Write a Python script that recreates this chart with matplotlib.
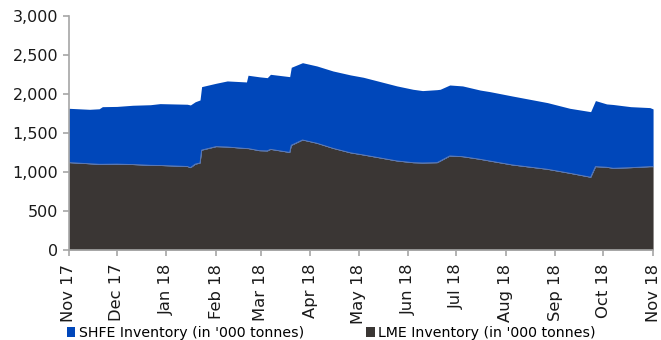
import matplotlib
matplotlib.use("Agg")
import matplotlib.pyplot as plt
import matplotlib.dates as mdates
import pandas as pd

dates = ["2017-11-01", "2017-11-14", "2017-11-20", "2017-11-22", "2017-12-01",
         "2017-12-11", "2017-12-22", "2017-12-28", "2018-01-14", "2018-01-16",
         "2018-01-19", "2018-01-22", "2018-01-23", "2018-02-01", "2018-02-08",
         "2018-02-20", "2018-02-21", "2018-02-28", "2018-03-05", "2018-03-07",
         "2018-03-19", "2018-03-20", "2018-03-27", "2018-04-05", "2018-04-15",
         "2018-04-26", "2018-05-04", "2018-05-25", "2018-06-04", "2018-06-10",
         "2018-06-19", "2018-06-21", "2018-06-27", "2018-07-05", "2018-07-16",
         "2018-07-22", "2018-08-05", "2018-08-27", "2018-09-10", "2018-09-23",
         "2018-09-26", "2018-10-03", "2018-10-07", "2018-10-18", "2018-10-30",
         "2018-11-01"]

lme = [1120, 1105, 1098, 1098, 1100, 1095, 1085, 1083, 1070, 1055,
       1100, 1115, 1280, 1325, 1320, 1300, 1300, 1273, 1270, 1290,
       1250, 1342, 1410, 1368, 1303, 1245, 1218, 1141, 1119, 1115,
       1119, 1140, 1205, 1196, 1162, 1140, 1090, 1034, 983, 932,
       1068, 1060, 1047, 1055, 1068, 1068]

total = [1816, 1803, 1810, 1837, 1840, 1855, 1862, 1876, 1868, 1859,
         1900, 1923, 2094, 2137, 2167, 2154, 2240, 2220, 2209, 2252,
         2222, 2342, 2401, 2359, 2295, 2244, 2214, 2103, 2060, 2043,
         2055, 2060, 2115, 2103, 2050, 2030, 1974, 1889, 1816, 1773,
         1915, 1872, 1865, 1837, 1825, 1808]

shfe = [t - l for t, l in zip(total, lme)]

x = pd.to_datetime(dates)

blue = "#0047BA"
dark = "#3A3634"
grey = "#A6A6A6"

plt.rcParams["font.family"] = ["DejaVu Sans"]

fig = plt.figure(figsize=(6.61, 3.40), dpi=100)
ax = fig.add_axes([0.104, 0.265, 0.884, 0.688])

ax.fill_between(x, 0, lme, color=dark, lw=0, label="LME Inventory (in '000 tonnes)")
ax.fill_between(x, lme, total, color=blue, lw=0, label="SHFE Inventory (in '000 tonnes)")
ax.plot(x, lme, color="#6A7FB0", lw=0.6)

ax.set_xlim(pd.Timestamp("2017-11-01"), pd.Timestamp("2018-11-01"))
ax.set_ylim(0, 3000)
ax.set_yticks(range(0, 3001, 500))
ax.yaxis.set_major_formatter(matplotlib.ticker.StrMethodFormatter("{x:,.0f}"))
ax.xaxis.set_major_locator(mdates.MonthLocator())
ax.xaxis.set_major_formatter(mdates.DateFormatter("%b %y"))

for s in ["top", "right"]:
    ax.spines[s].set_visible(False)
for s in ["left", "bottom"]:
    ax.spines[s].set_color(grey)
    ax.spines[s].set_linewidth(1.2)
ax.tick_params(axis="both", colors=grey, length=4, width=1.2, labelcolor="#1a1a1a")
ax.tick_params(axis="y", labelsize=11.5)
ax.tick_params(axis="x", labelrotation=90, labelsize=11.8, pad=6)

handles, labels = ax.get_legend_handles_labels()
leg = fig.legend(handles[::-1], labels[::-1], loc="lower left", bbox_to_anchor=(0.088, -0.025),
                 ncol=2, frameon=True, fontsize=10.2, handlelength=0.6, handleheight=0.75,
                 handletextpad=0.25, columnspacing=4.4, borderpad=0.1, fancybox=False)
leg.get_frame().set_facecolor("white")
leg.get_frame().set_edgecolor("none")
leg.get_frame().set_alpha(None)
leg.set_zorder(10)

fig.savefig("out.png", dpi=100)
